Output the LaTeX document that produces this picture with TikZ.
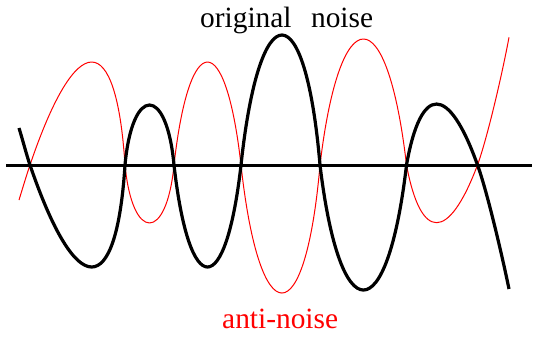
\documentclass[tikz,border=0pt]{standalone}
\usepackage{fontspec}
\setmainfont{Liberation Serif}
\begin{document}
\begin{tikzpicture}[x=1pt,y=-1pt,
  lbl/.style={inner sep=0pt, anchor=base west, font=\fontsize{29.4}{34}\selectfont},
  wave/.style={line width=3.2pt, line join=round},
  anti/.style={red, line width=1pt, line join=round}]
\useasboundingbox (0,0) rectangle (534,337);
\draw[line width=3pt] (6,165) -- (532,165);
% anti-noise (red)
\draw[anti] (19,200) .. controls (23,187) and (26.5,175.2) .. (30,165)
  .. controls (76.5,27.7) and (116.3,27.7) .. (125,165)
  .. controls (132.4,242.3) and (166.6,242.3) .. (174,165)
  .. controls (189.4,27.7) and (225.6,27.7) .. (241,165)
  .. controls (259.6,335.7) and (305.2,335.7) .. (320,165)
  .. controls (340,-3) and (387,-3) .. (406.5,165)
  .. controls (420.9,241.9) and (448.5,241.9) .. (477.5,165)
  .. controls (487,139) and (502,75) .. (509,37.3);
% original noise (black)
\draw[wave] (19,128) .. controls (23,141) and (26.5,154.8) .. (30,165)
  .. controls (76.5,301) and (116.3,301) .. (125,165)
  .. controls (132.4,85) and (166.6,85) .. (174,165)
  .. controls (189.4,301) and (225.6,301) .. (241,165)
  .. controls (259.6,-8.3) and (305.2,-8.3) .. (320,165)
  .. controls (340,331.7) and (387,331.7) .. (406.5,165)
  .. controls (420.9,83.7) and (448.5,83.7) .. (477.5,165)
  .. controls (487,191) and (502,255) .. (509,289);
\node[lbl] (orig) at (200,28) {original\hspace{0.66em}noise};
\node[lbl, red] (antinoise) at (222,328) {anti-noise};
\end{tikzpicture}
\end{document}
